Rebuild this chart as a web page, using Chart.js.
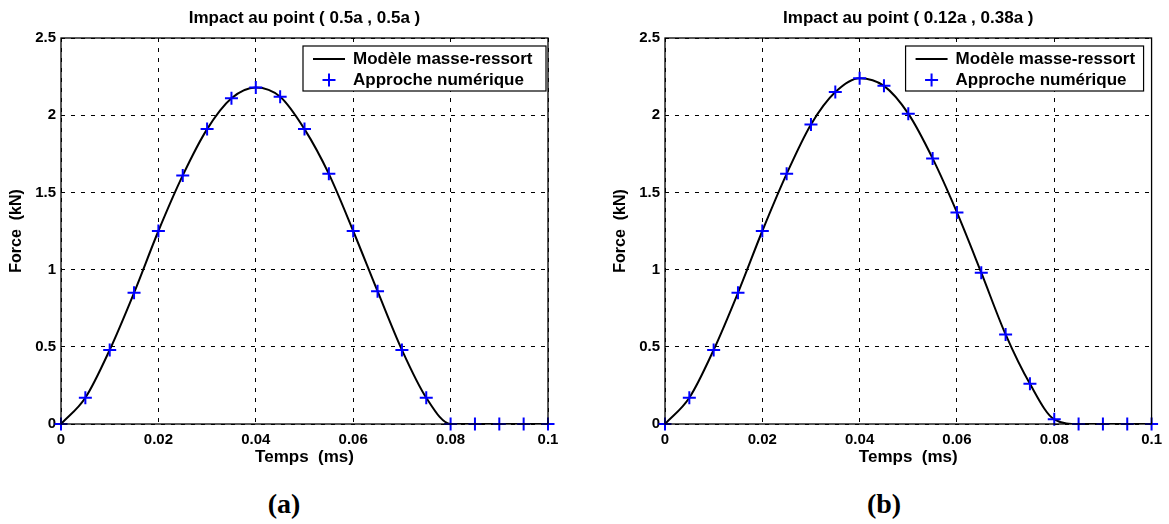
<!DOCTYPE html>
<html>
<head>
<meta charset="utf-8">
<script src="https://cdn.jsdelivr.net/npm/chart.js@4/dist/chart.umd.min.js"></script>
<style>
  body { margin: 0; background: #fff; width: 1169px; height: 524px; overflow: hidden; position: relative; }
  .box { position: absolute; top: 0; height: 470px; }
  .tag { position: absolute; top: 488px; line-height: 34px; font: bold 28px "Liberation Serif", "DejaVu Serif", serif; color: #000; transform: translateX(-50%); }
</style>
</head>
<body>
<div class="box" style="left:0; width:580px;"><canvas id="chart-a"></canvas></div>
<div class="box" style="left:604px; width:565px;"><canvas id="chart-b"></canvas></div>
<div class="tag" style="left:284px;">(a)</div>
<div class="tag" style="left:884px;">(b)</div>
<script>
// time axis (ms)
const temps = [0, 0.005, 0.01, 0.015, 0.02, 0.025, 0.03, 0.035, 0.04, 0.045, 0.05,
               0.055, 0.06, 0.065, 0.07, 0.075, 0.08, 0.085, 0.09, 0.095, 0.1];

// force (kN), impact at (0.5a, 0.5a)
const modeleA = [0, 0.17, 0.48, 0.85, 1.25, 1.61, 1.91, 2.11, 2.18, 2.12, 1.91,
                 1.62, 1.25, 0.86, 0.48, 0.17, 0, 0, 0, 0, 0];
const numeriqueA = [0, 0.17, 0.48, 0.85, 1.25, 1.61, 1.91, 2.11, 2.18, 2.12, 1.91,
                    1.62, 1.25, 0.86, 0.48, 0.17, 0, 0, 0, 0, 0];

// force (kN), impact at (0.12a, 0.38a)
const modeleB = [0, 0.17, 0.48, 0.85, 1.25, 1.62, 1.94, 2.15, 2.24, 2.19, 2.01,
                 1.72, 1.37, 0.98, 0.58, 0.26, 0.03, 0, 0, 0, 0];
const numeriqueB = [0, 0.17, 0.48, 0.85, 1.25, 1.62, 1.94, 2.15, 2.24, 2.19, 2.01,
                    1.72, 1.37, 0.98, 0.58, 0.26, 0.03, 0, 0, 0, 0];

const xTicks = [0, 0.02, 0.04, 0.06, 0.08, 0.1];
const yTicks = [0, 0.5, 1, 1.5, 2, 2.5];
const labels = ['Modèle masse-ressort', 'Approche numérique'];

const FONT = 'Liberation Sans, Arial, sans-serif';
const BLUE = '#0000ff';

// box around the plot + legend inside, like matlab
const boxPlugin = {
  id: 'boxLegend',
  afterDatasetsDraw(chart, args, opts) {
    const { ctx, chartArea: a } = chart;
    ctx.save();
    ctx.strokeStyle = '#000';
    ctx.lineWidth = 1.3;
    ctx.strokeRect(a.left, a.top, a.right - a.left, a.bottom - a.top);

    const w = opts.width, h = 45;
    const x = a.right - opts.right - w, y = a.top + 8;
    ctx.fillStyle = '#fff';
    ctx.fillRect(x, y, w, h);
    ctx.lineWidth = 1.2;
    ctx.strokeRect(x, y, w, h);

    ctx.font = 'bold 17px ' + FONT;
    ctx.fillStyle = '#000';
    ctx.textBaseline = 'middle';
    const y1 = y + 13, y2 = y + 34;
    ctx.lineWidth = 2;
    ctx.beginPath(); ctx.moveTo(x + 10, y1); ctx.lineTo(x + 42, y1); ctx.stroke();
    ctx.fillText(labels[0], x + 50, y1);
    ctx.strokeStyle = BLUE;
    ctx.beginPath();
    ctx.moveTo(x + 19.5, y2); ctx.lineTo(x + 32.5, y2);
    ctx.moveTo(x + 26, y2 - 6.5); ctx.lineTo(x + 26, y2 + 6.5);
    ctx.stroke();
    ctx.fillText(labels[1], x + 50, y2);
    ctx.restore();
  }
};

function makeChart(id, title, modele, numerique, padRight, legend) {
  return new Chart(document.getElementById(id).getContext('2d'), {
    type: 'line',
    data: {
      datasets: [
        { label: labels[0], data: temps.map((t, i) => ({ x: t, y: modele[i] })),
          borderColor: '#000', borderWidth: 2, pointRadius: 0,
          cubicInterpolationMode: 'monotone', order: 2 },
        { label: labels[1], data: temps.map((t, i) => ({ x: t, y: numerique[i] })),
          showLine: false, pointStyle: 'cross', pointRadius: 6.5, pointBorderWidth: 2,
          pointBorderColor: BLUE, pointBackgroundColor: BLUE, clip: false, order: 1 },
      ],
    },
    options: {
      responsive: false,
      animation: false,
      layout: { padding: { top: 0, right: padRight, left: 0, bottom: 0 } },
      plugins: {
        legend: { display: false },
        tooltip: { enabled: false },
        title: {
          display: true, text: title, fullSize: false, color: '#000',
          font: { family: FONT, size: 17, weight: 'bold' },
          padding: { top: 8, bottom: 9.6 },
        },
        boxLegend: legend,
      },
      scales: {
        x: {
          type: 'linear', min: 0, max: 0.1,
          afterBuildTicks: s => { s.ticks = xTicks.map(v => ({ value: v })); },
          afterFit: s => { s.height = 46; },
          grid: { color: '#000', lineWidth: 1, tickLength: 0, drawTicks: false },
          border: { display: false, dash: [4, 6] },
          ticks: { color: '#000', padding: 7, font: { family: FONT, size: 15, weight: 'bold' },
                   callback: v => String(v) },
          title: { display: true, text: 'Temps  (ms)', color: '#000', padding: { top: 0, bottom: 2 },
                   font: { family: FONT, size: 17, weight: 'bold' } },
        },
        y: {
          type: 'linear', min: 0, max: 2.5,
          afterBuildTicks: s => { s.ticks = yTicks.map(v => ({ value: v })); },
          afterFit: s => { s.width = 61; },
          grid: { color: '#000', lineWidth: 1, tickLength: 0, drawTicks: false },
          border: { display: false, dash: [4, 6] },
          ticks: { color: '#000', padding: 5, font: { family: FONT, size: 15, weight: 'bold' },
                   callback: v => String(v) },
          title: { display: true, text: 'Force  (kN)', color: '#000', padding: { top: 6.5, bottom: 0 },
                   font: { family: FONT, size: 16, weight: 'bold' } },
        },
      },
    },
    plugins: [boxPlugin],
  });
}

document.getElementById('chart-a').width = 580;
document.getElementById('chart-a').height = 470;
document.getElementById('chart-b').width = 565;
document.getElementById('chart-b').height = 470;

makeChart('chart-a', 'Impact au point ( 0.5a , 0.5a )', modeleA, numeriqueA, 32, { width: 243, right: 2 });
makeChart('chart-b', 'Impact au point ( 0.12a , 0.38a )', modeleB, numeriqueB, 16, { width: 238, right: 8 });
</script>
</body>
</html>
